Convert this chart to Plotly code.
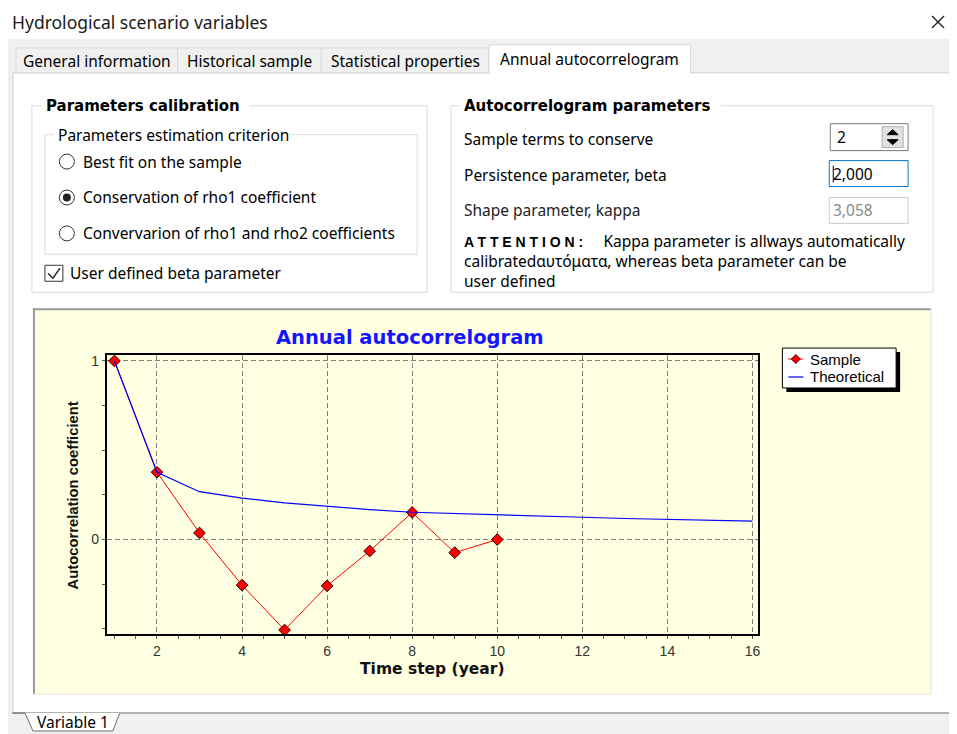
import plotly.graph_objects as go

# ---------------- data ----------------
sample_lag = [1, 2, 3, 4, 5, 6, 7, 8, 9, 10]
sample_rho = [1.0, 0.377, 0.037, -0.255, -0.506, -0.259, -0.064, 0.152, -0.073, 0.0]
theo_lag = list(range(1, 17))
theo_rho = [1.0, 0.377, 0.268, 0.232, 0.206, 0.185, 0.168, 0.153, 0.145, 0.139,
            0.132, 0.125, 0.118, 0.113, 0.108, 0.103]
x_tickvals = [2, 4, 6, 8, 10, 12, 14, 16]
y_tickvals = [0, 1]
y_ticktext = ["0", "1"]

# the page body has an 8px margin; lay everything out in window pixels
OFF = 8
W, H = 957 - OFF, 734 - OFF
def X(px): return (px - OFF) / W
def Y(py): return 1 - (py - OFF) / H

UI = "Noto Sans"
CH = "Liberation Sans"
BD = "DejaVu Sans"
FS = 15.5

shapes = []
annots = []

def rect(x0, y0, x1, y1, fill=None, line=None, lw=1, layer="below"):
    d = dict(type="rect", xref="paper", yref="paper", x0=X(x0), x1=X(x1), y0=Y(y1), y1=Y(y0),
             layer=layer, line=dict(width=lw if line else 0, color=line or "rgba(0,0,0,0)"))
    if fill:
        d["fillcolor"] = fill
    shapes.append(d)

def hline(x0, x1, y, color, lw=1, layer="below"):
    shapes.append(dict(type="line", xref="paper", yref="paper", x0=X(x0), x1=X(x1), y0=Y(y), y1=Y(y),
                       layer=layer, line=dict(color=color, width=lw)))

def vline(x, y0, y1, color, lw=1, layer="below"):
    shapes.append(dict(type="line", xref="paper", yref="paper", x0=X(x), x1=X(x), y0=Y(y0), y1=Y(y1),
                       layer=layer, line=dict(color=color, width=lw)))

def path(pts, color, lw=1, fill=None, closed=False, layer="below"):
    s = "M " + " L ".join(f"{X(a):.5f},{Y(b):.5f}" for a, b in pts)
    if closed:
        s += " Z"
    d = dict(type="path", xref="paper", yref="paper", path=s, layer=layer,
             line=dict(color=color, width=lw))
    if fill:
        d["fillcolor"] = fill
    shapes.append(d)

def circle(cx, cy, r, fill=None, line=None, lw=1):
    d = dict(type="circle", xref="paper", yref="paper", x0=X(cx - r), x1=X(cx + r),
             y0=Y(cy + r), y1=Y(cy - r), layer="below",
             line=dict(width=lw if line else 0, color=line or "rgba(0,0,0,0)"))
    if fill:
        d["fillcolor"] = fill
    shapes.append(d)

def text(x, y, s, size=FS, color="#000000", family=UI, anchor="left", bold=False, yanchor="middle"):
    annots.append(dict(xref="paper", yref="paper", x=X(x), y=Y(y), text=f"<b>{s}</b>" if bold else s,
                       showarrow=False, xanchor=anchor, yanchor=yanchor, align="left",
                       font=dict(size=size, color=color, family=family)))

# ---------------- dialog chrome ----------------
rect(0, 37, 957, 734, fill="#F0F0F0")
text(10, 20, "Hydrological scenario variables", size=17.5, color="#1a1a1a")
path([(934, 14), (946, 26)], "#222222", 1.3)
path([(946, 14), (934, 26)], "#222222", 1.3)

# tab page
rect(13, 71, 952, 713, fill="#FFFFFF", line="#D0D0D0")
hline(13, 952, 713, "#A0A0A0", 1.5)
# tabs
for (x0, x1, lab) in [(16, 178, "General information"), (178, 322, "Historical sample"),
                      (322, 490, "Statistical properties")]:
    rect(x0, 46, x1, 71, fill="#F0F0F0", line="#D9D9D9")
    text((x0 + x1) / 2, 59, lab, anchor="center")
rect(490, 43, 692, 71.5, fill="#FFFFFF", line="#D9D9D9")
hline(491, 691, 71.5, "#FFFFFF", 2)
text(591, 57, "Annual autocorrelogram", anchor="center")

# bottom tab
path([(12, 713), (25, 713), (33, 731), (113, 731), (120, 713)], "#707070", 1, fill="#FFFFFF")
text(73, 722, "Variable 1", anchor="center")

# group: Parameters calibration
rect(32, 104, 428, 291, line="#DCDCDC")
rect(42, 96, 250, 112, fill="#FFFFFF")
text(44, 104, "Parameters calibration", size=15, family=BD, bold=True)
rect(45, 133, 418, 253, line="#DCDCDC")
rect(54, 125, 290, 141, fill="#FFFFFF")
text(56, 133, "Parameters estimation criterion")
for i, (cy, lab) in enumerate([(160, "Best fit on the sample"),
                               (196, "Conservation of rho1 coefficient"),
                               (232, "Convervarion of rho1 and rho2 coefficients")]):
    circle(67, cy, 7.5, fill="#FFFFFF", line="#333333", lw=1)
    if i == 1:
        circle(67, cy, 4, fill="#222222")
    text(81, cy, lab)
rect(45, 264, 63, 280, fill="#FFFFFF", line="#333333")
path([(48, 272), (53, 277), (60, 267)], "#333333", 1.5)
text(68, 272, "User defined beta parameter")

# group: Autocorrelogram parameters
rect(452, 104, 935, 291, line="#DCDCDC")
rect(461, 96, 722, 112, fill="#FFFFFF")
text(463, 104, "Autocorrelogram parameters", size=15, family=BD, bold=True)
text(463, 137, "Sample terms to conserve")
text(463, 173, "Persistence parameter, beta")
text(463, 209, "Shape parameter, kappa", color="#222222")
# spin box
rect(832, 122, 910, 149, fill="#FFFFFF", line="#7A7A7A")
text(837, 135, "2")
rect(884, 125, 905, 146, fill="#E1E1E1", line="#ADADAD")
path([(889, 133), (894.5, 128), (900, 133)], "#000000", 1, fill="#000000", closed=True)
path([(889, 138), (894.5, 143), (900, 138)], "#000000", 1, fill="#000000", closed=True)
# beta box
rect(831, 159, 910, 185, fill="#FFFFFF", line="#0078D7")
vline(835, 164, 181, "#000000", 1)
text(833, 172, "2,000")
# kappa box
rect(831, 196, 910, 222, fill="#FFFFFF", line="#CCCCCC")
text(833, 209, "3,058", color="#8C8C8C")
note = ('<span style="font-family:Liberation Sans;font-size:14px"><b>A T T E N T I O N :</b></span>'
        + "\u00a0" * 5 + "Kappa parameter is allways automatically<br>"
        + "calibratedαυτόματα, whereas beta parameter can be<br>user defined")
text(463, 260, note)

# chart panel
rect(33, 307, 933, 694, fill="#FFFFE1")
hline(33, 933, 308, "#9A9A9A", 2)
vline(34, 307, 694, "#9A9A9A", 2)
hline(33, 933, 694, "#E3E3E3", 1)
vline(933, 307, 694, "#E3E3E3", 1)

# legend (boxed key with drop shadow)
rect(788, 351, 902, 391, fill="#000000")
rect(784, 347, 898, 387, fill="#FFFFFF", line="#000000")
hline(790, 805, 358, "#FF0000", 1)
path([(797.5, 353.5), (802, 358), (797.5, 362.5), (793, 358)], "#300000", 1, fill="#FF0000", closed=True)
hline(790, 805, 376, "#0000FF", 1.2)
text(810, 358, "Sample", size=15, family=CH)
text(810, 376, "Theoretical", size=15, family=CH)

# chart texts
text(411, 336, "Annual autocorrelogram", size=19.5, color="#1414FF", family=BD, bold=True, anchor="center")
text(433, 669, "Time step (year)", size=15.5, color="#111111", family=BD, bold=True, anchor="center")
annots.append(dict(xref="paper", yref="paper", x=X(73), y=Y(495), text="<b>Autocorrelation coefficient</b>",
                   showarrow=False, textangle=-90, xanchor="center", yanchor="middle",
                   font=dict(size=14.8, color="#111111", family=CH)))

# ---------------- figure ----------------
fig = go.Figure()
fig.add_trace(go.Scatter(
    x=sample_lag, y=sample_rho, name="Sample", mode="lines+markers",
    line=dict(color="#FF0000", width=1),
    marker=dict(symbol="diamond", size=9, color="#FF0000", line=dict(color="#300000", width=1)),
))
fig.add_trace(go.Scatter(
    x=theo_lag, y=theo_rho, name="Theoretical", mode="lines",
    line=dict(color="#0000FF", width=1.2),
))

axis_common = dict(
    ticks="outside", ticklen=3, tickcolor="#555555",
    tickfont=dict(family=CH, size=14, color="#333333"),
    showgrid=True, gridcolor="#808080", griddash="5px,3px", gridwidth=1,
    showline=True, linecolor="#000000", linewidth=2, mirror=True, zeroline=False,
)
fig.update_layout(
    width=W, height=H, margin=dict(l=0, r=0, t=0, b=0),
    paper_bgcolor="#FFFFFF", plot_bgcolor="#FFFFE1",
    shapes=shapes, annotations=annots,
    showlegend=False,
    xaxis=dict(domain=[X(107), X(760)], range=[0.82, 16.14], tickvals=x_tickvals,
               minor=dict(tick0=0, dtick=0.5, ticks="outside", ticklen=3, tickcolor="#555555", showgrid=False),
               **axis_common),
    yaxis=dict(domain=[Y(634), Y(354)], range=[-0.53, 1.033], tickvals=y_tickvals, ticktext=y_ticktext,
               minor=dict(tick0=0, dtick=0.25, ticks="outside", ticklen=3, tickcolor="#555555", showgrid=False),
               **axis_common),
)

fig.write_html("out.html")
